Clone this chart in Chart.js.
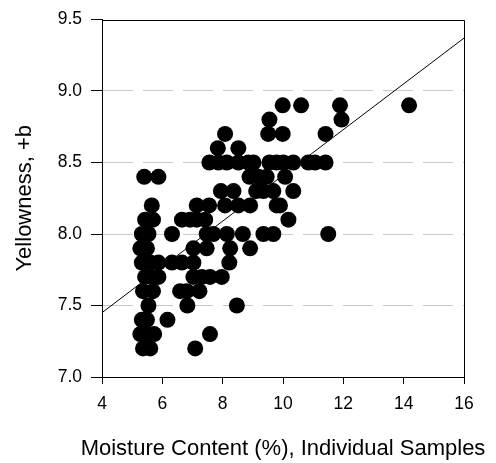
<!DOCTYPE html>
<html>
<head>
<meta charset="utf-8">
<script src="https://cdn.jsdelivr.net/npm/chart.js@4/dist/chart.umd.min.js"></script>
<style>
  html, body { margin: 0; padding: 0; background: #fff; }
  #wrap { width: 496px; height: 463px; position: relative; }
</style>
</head>
<body>
<div id="wrap"><canvas id="c" width="496" height="463"></canvas></div>
<script>
// Individual samples: moisture content (%) and yellowness (+b)
const moisture = [
  9.99, 10.60, 11.89, 14.18,
  9.55, 11.94,
  8.08, 9.51, 9.99, 11.41,
  7.84, 8.52,
  7.56, 7.86, 8.14, 8.52, 8.85, 9.02, 9.55, 9.79, 10.01, 10.34, 10.84, 11.06, 11.41,
  5.40, 5.87, 8.89, 9.18, 9.46, 10.07,
  7.94, 8.36, 9.11, 9.35, 9.68, 10.34,
  5.65, 7.14, 7.55, 8.08, 8.52, 8.91, 9.79, 9.90,
  5.43, 5.69, 6.65, 6.92, 7.14, 7.42, 10.18,
  5.32, 5.54, 6.32, 7.47, 7.69, 8.14, 8.67, 9.35, 9.68, 11.50,
  5.27, 5.49, 7.03, 7.47, 8.25, 8.91,
  5.32, 5.60, 5.87, 6.32, 6.65, 7.03, 8.22,
  5.43, 5.65, 5.87, 7.03, 7.31, 7.58, 7.97,
  5.36, 5.69, 6.59, 6.81, 7.23,
  5.54, 6.83, 8.47,
  5.32, 5.49, 6.17,
  5.27, 5.49, 5.73, 7.58,
  5.36, 5.60, 7.09
];
const yellowness = [
  8.9, 8.9, 8.9, 8.9,
  8.8, 8.8,
  8.7, 8.7, 8.7, 8.7,
  8.6, 8.6,
  8.5, 8.5, 8.5, 8.5, 8.5, 8.5, 8.5, 8.5, 8.5, 8.5, 8.5, 8.5, 8.5,
  8.4, 8.4, 8.4, 8.4, 8.4, 8.4,
  8.3, 8.3, 8.3, 8.3, 8.3, 8.3,
  8.2, 8.2, 8.2, 8.2, 8.2, 8.2, 8.2, 8.2,
  8.1, 8.1, 8.1, 8.1, 8.1, 8.1, 8.1,
  8.0, 8.0, 8.0, 8.0, 8.0, 8.0, 8.0, 8.0, 8.0, 8.0,
  7.9, 7.9, 7.9, 7.9, 7.9, 7.9,
  7.8, 7.8, 7.8, 7.8, 7.8, 7.8, 7.8,
  7.7, 7.7, 7.7, 7.7, 7.7, 7.7, 7.7,
  7.6, 7.6, 7.6, 7.6, 7.6,
  7.5, 7.5, 7.5,
  7.4, 7.4, 7.4,
  7.3, 7.3, 7.3, 7.3,
  7.2, 7.2, 7.2
];
// Regression line endpoints
const fitX = [4, 16];
const fitY = [7.45, 9.37];

const xTitle = 'Moisture Content (%), Individual Samples';
const yTitle = 'Yellowness, +b';

const FONT = "Arial, 'Liberation Sans', Helvetica, sans-serif";

const points = moisture.map((x, i) => ({ x: x, y: yellowness[i] }));
const fitLine = fitX.map((x, i) => ({ x: x, y: fitY[i] }));

// Top/right frame lines and the x-axis title (drawn without width squeezing)
const framePlugin = {
  id: 'frame',
  afterDraw(chart) {
    const { ctx, chartArea: a } = chart;
    ctx.save();
    ctx.strokeStyle = '#000';
    ctx.lineWidth = 1;
    ctx.beginPath();
    ctx.moveTo(Math.round(a.left) + 0.5, Math.round(a.top) + 0.5);
    ctx.lineTo(Math.round(a.right) + 0.5, Math.round(a.top) + 0.5);
    ctx.lineTo(Math.round(a.right) + 0.5, Math.round(a.bottom) + 0.5);
    ctx.stroke();

    const xs = chart.scales.x;
    ctx.fillStyle = '#000';
    ctx.font = '22px ' + FONT;
    ctx.textAlign = 'center';
    ctx.textBaseline = 'alphabetic';
    ctx.fillText(xTitle, (xs.left + xs.right) / 2, xs.bottom - 8);
    ctx.restore();
  }
};

new Chart(document.getElementById('c'), {
  type: 'scatter',
  data: {
    datasets: [
      {
        type: 'line',
        data: fitLine,
        borderColor: '#000',
        borderWidth: 1,
        pointRadius: 0,
        fill: false,
        order: 0
      },
      {
        data: points,
        backgroundColor: '#000',
        borderColor: '#000',
        borderWidth: 0,
        pointRadius: 8,
        pointHoverRadius: 8,
        order: 1
      }
    ]
  },
  options: {
    responsive: false,
    animation: false,
    events: [],
    layout: { padding: { top: 14, right: 32, left: 0, bottom: 0 } },
    plugins: { legend: { display: false }, tooltip: { enabled: false } },
    scales: {
      x: {
        type: 'linear',
        min: 4, max: 16,
        afterFit(s) { s.height = 86; },
        ticks: {
          stepSize: 2,
          color: '#000',
          font: { family: FONT, size: 17.5 },
          padding: 10
        },
        grid: {
          drawOnChartArea: false,
          drawTicks: true,
          tickLength: 7,
          tickColor: '#000',
          color: '#000'
        },
        border: { display: true, color: '#000', width: 1 },
        title: { display: false, text: xTitle }
      },
      y: {
        type: 'linear',
        min: 7, max: 9.5,
        afterFit(s) { s.width = 102; },
        ticks: {
          stepSize: 0.5,
          color: '#000',
          font: { family: FONT, size: 17.5 },
          padding: 9,
          callback: (v) => Number(v).toFixed(1)
        },
        grid: {
          drawOnChartArea: true,
          drawTicks: true,
          tickLength: 11,
          tickColor: '#000',
          tickBorderDash: [],
          lineWidth: 1,
          color: (ctx) => {
            const v = ctx.tick ? ctx.tick.value : null;
            return (v === 7 || v === 9.5) ? 'rgba(0,0,0,0)' : '#c8c8c8';
          }
        },
        border: { display: true, color: '#000', width: 1, dash: [30, 10] },
        title: {
          display: true,
          text: yTitle,
          color: '#000',
          font: { family: FONT, size: 22 },
          padding: { top: 12, bottom: 0 }
        }
      }
    }
  },
  plugins: [framePlugin]
});
</script>
</body>
</html>
